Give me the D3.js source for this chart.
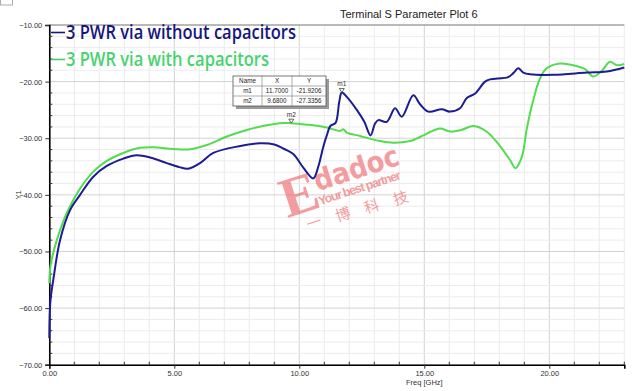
<!DOCTYPE html>
<html lang="en">
<head>
    <meta charset="UTF-8">
    <title>Terminal S Parameter Plot 6</title>
    <script src="https://d3js.org/d3.v7.min.js"></script>
</head>
<style>
    html,body {
        margin: 0;
        padding: 0;
        background: #fff;
    }
</style>
<body>
    <div id="svg"></div>
</body>
<script>
    // 数据
    const freqNoCap = [0, 0.04, 0.16, 0.43, 0.83, 1.23, 1.76, 2.3, 2.96, 3.5, 4.03, 4.7, 5.2, 5.55, 6.03, 6.56, 7.6, 8.4, 9.0, 9.4, 9.76, 10.16, 10.56, 10.76, 10.96, 11.1, 11.25, 11.45, 11.6, 11.7, 11.9, 12.3, 12.6, 12.85, 13.03, 13.16, 13.5, 13.83, 14.1, 14.56, 14.83, 15.16, 15.7, 16.03, 16.43, 16.7, 17.03, 17.43, 17.63, 18.36, 18.56, 18.76, 18.96, 19.23, 20.16, 21.5, 22.3, 23.0];
    const dbNoCap = [-65.3, -59, -55, -48, -42.7, -40.0, -36.8, -34.9, -33.6, -33.0, -33.4, -34.4, -35.1, -35.4, -34.4, -32.6, -31.4, -30.9, -31.1, -31.9, -32.8, -35.2, -37.1, -35.0, -31.5, -29.5, -27.8, -27.3, -23.5, -21.92, -22.7, -25.0, -27.1, -29.5, -27.4, -26.8, -27.1, -24.7, -26.2, -22.4, -24.0, -25.3, -24.9, -25.3, -24.7, -22.9, -22.1, -20.0, -19.6, -19.2, -18.5, -17.65, -18.4, -18.7, -18.8, -18.4, -18.2, -17.5];

    const freqCap = [0, 0.05, 0.3, 0.63, 0.83, 1.23, 1.76, 2.3, 2.96, 3.63, 4.16, 4.96, 5.63, 6.3, 7.1, 7.9, 8.7, 9.36, 9.68, 10.3, 10.56, 11.1, 11.63, 11.76, 11.9, 12.43, 13.23, 13.76, 14.43, 14.96, 15.23, 15.63, 16.03, 16.5, 16.96, 17.5, 18.03, 18.43, 18.65, 18.9, 19.1, 19.36, 19.63, 19.9, 20.43, 20.96, 21.43, 21.76, 22.1, 22.43, 22.7, 23.0];
    const dbCap = [-55.6, -52.5, -48, -43.9, -42, -38.9, -35.9, -34.0, -32.6, -31.7, -31.6, -31.9, -31.95, -31.2, -29.7, -28.55, -27.7, -27.3, -27.34, -27.6, -27.7, -28.1, -28.7, -28.4, -29.0, -29.6, -30.5, -30.8, -30.5, -29.5, -28.9, -28.3, -28.8, -28.5, -27.85, -28.85, -31.4, -33.85, -35.3, -33.3, -28.3, -23.25, -19.4, -17.65, -16.8, -17.1, -17.8, -19.1, -18.1, -16.5, -17.1, -16.9];

    const seriesNames = ['3 PWR via without capacitors', '3 PWR via with capacitors'];
    const seriesColors = ['#1c1c94', '#52dc4e'];
    const legendColors = ['#16167e', '#48d270'];

    const markerNames = ['m1', 'm2'];
    const markerFreq = [11.7, 9.68];
    const markerDb = [-21.9206, -27.3356];

    const xTicks = [0, 5, 10, 15, 20];
    const yTicks = [-70, -60, -50, -40, -30, -20, -10];

    const W = 640, H = 391;
    const svg = d3.select('#svg').append('svg')
        .attr('width', W)
        .attr('height', H)
        .style('font-family', 'Arial, "Liberation Sans", sans-serif');

    const x = d3.scaleLinear().domain([0, 23]).range([49.3, 624.3]);
    const y = d3.scaleLinear().domain([-70, -10]).range([364.7, 25]);

    // 小框 (左上角)
    svg.append('rect').attr('x', 0.5).attr('y', -1).attr('width', 12).attr('height', 6)
        .attr('fill', '#fff').attr('stroke', '#aaa');

    // 网格
    const g = svg.append('g');
    g.selectAll('.vminor').data(d3.range(0, 24)).enter().append('line')
        .attr('x1', d => x(d)).attr('x2', d => x(d))
        .attr('y1', y(-10)).attr('y2', y(-70))
        .attr('stroke', d => d % 5 === 0 ? '#d2d2d2' : '#ececec')
        .attr('stroke-width', 1);
    g.selectAll('.hminor').data(d3.range(-70, -9, 2)).enter().append('line')
        .attr('x1', x(0)).attr('x2', x(23))
        .attr('y1', d => y(d)).attr('y2', d => y(d))
        .attr('stroke', d => d % 10 === 0 ? '#d2d2d2' : '#ececec')
        .attr('stroke-width', 1);
    // 顶部边线
    g.append('line').attr('x1', x(0)).attr('x2', x(23)).attr('y1', y(-10)).attr('y2', y(-10))
        .attr('stroke', '#8a8a8a').attr('stroke-width', 1);

    // 坐标轴
    const xAxis = svg.append('g').attr('transform', `translate(0,${y(-70)})`)
        .call(d3.axisBottom(x).tickValues(xTicks).tickSize(4).tickFormat(d3.format('.2f')));
    const yAxis = svg.append('g').attr('transform', `translate(${x(0)},0)`)
        .call(d3.axisLeft(y).tickValues(yTicks).tickSize(4).tickFormat(d3.format('.2f')));
    [xAxis, yAxis].forEach(a => {
        a.select('.domain').attr('stroke', '#000').attr('stroke-width', 1.6);
        a.selectAll('.tick line').attr('stroke', '#333');
        a.selectAll('.tick text').attr('fill', '#333').style('font-size', '7.5px')
            .style('font-family', 'Arial, "Liberation Sans", sans-serif');
    });
    yAxis.selectAll('.tick text').attr('x', -7);
    xAxis.selectAll('.tick text').attr('y', 6);
    // 小刻度
    svg.append('g').selectAll('line').data(d3.range(1, 24).filter(d => d % 5 !== 0)).enter().append('line')
        .attr('x1', d => x(d)).attr('x2', d => x(d))
        .attr('y1', y(-70)).attr('y2', y(-70) - 3)
        .attr('stroke', '#333');
    svg.append('g').selectAll('line').data(d3.range(-68, -10, 2).filter(d => d % 10 !== 0)).enter().append('line')
        .attr('x1', x(0)).attr('x2', x(0) + 3)
        .attr('y1', d => y(d)).attr('y2', d => y(d))
        .attr('stroke', '#333');

    // 轴标题
    svg.append('text').attr('x', x(15)).attr('y', 385).attr('text-anchor', 'middle')
        .style('font-size', '7.5px').attr('fill', '#333').text('Freq [GHz]');
    svg.append('text').attr('transform', `translate(21,${y(-40)}) rotate(-90)`)
        .attr('text-anchor', 'middle').style('font-size', '7.5px').attr('fill', '#333').text('Y1');
    svg.append('text').attr('x', 340).attr('y', 18)
        .style('font-size', '11px').attr('fill', '#222').text('Terminal S Parameter Plot 6');

    // 水印
    const wm = svg.append('g').attr('transform', 'translate(345,195) rotate(-18)')
        .attr('fill', '#ef7479').attr('opacity', 0.7);
    wm.append('text').attr('x', -62).attr('y', 4)
        .style('font-family', '"Liberation Serif", serif').style('font-size', '56px').style('font-weight', 'bold')
        .text('E');
    wm.append('text').attr('x', -25).attr('y', -12)
        .style('font-family', '"DejaVu Sans", sans-serif').style('font-size', '29px').style('font-weight', 'bold')
        .attr('textLength', 88).attr('lengthAdjust', 'spacingAndGlyphs').text('dadoc');
    wm.append('text').attr('x', -27).attr('y', 2)
        .style('font-size', '12.5px').style('font-weight', 'bold')
        .attr('textLength', 86).text('Your best partner');
    ['一', '博', '科', '技'].forEach((c, i) => {
        wm.append('text').attr('x', -38 + i * 30).attr('y', 22 + i * 1.2).attr('text-anchor', 'middle')
            .style('font-family', '"Noto Sans CJK SC", sans-serif').style('font-size', '15px')
            .text(c);
    });

    // 曲线
    const line = d3.line()
        .x(d => x(d[0]))
        .y(d => y(d[1]))
        .curve(d3.curveCatmullRom.alpha(0.5));
    const series = [
        d3.zip(freqNoCap, dbNoCap),
        d3.zip(freqCap, dbCap)
    ];
    svg.append('g').selectAll('path').data([series[1], series[0]]).enter().append('path')
        .attr('d', line)
        .attr('fill', 'none')
        .attr('stroke', (d, i) => i === 0 ? seriesColors[1] : seriesColors[0])
        .attr('stroke-width', 2);

    // 图例
    const leg = svg.append('g').style('font-family', '"Open Sans", sans-serif').style('font-weight', 600);
    seriesNames.forEach((name, i) => {
        const yy = 39 + i * 27;
        leg.append('line').attr('x1', 51).attr('x2', 65).attr('y1', yy - 6.5).attr('y2', yy - 6.5)
            .attr('stroke', legendColors[i]).attr('stroke-width', 1.6);
        leg.append('text').attr('x', 66).attr('y', yy)
            .attr('fill', legendColors[i]).style('font-size', '19px')
            .attr('textLength', i === 0 ? 230 : 203).attr('lengthAdjust', 'spacingAndGlyphs')
            .text(name);
    });

    // 标记
    const mk = svg.append('g');
    markerNames.forEach((m, i) => {
        const mx = x(markerFreq[i]), my = y(markerDb[i]);
        mk.append('path')
            .attr('d', `M${mx - 2.5},${my - 4} L${mx + 2.5},${my - 4} L${mx},${my} Z`)
            .attr('fill', '#fff').attr('stroke', '#444').attr('stroke-width', 0.8);
        mk.append('text').attr('x', mx).attr('y', my - 6).attr('text-anchor', 'middle')
            .style('font-size', '6.5px').attr('fill', '#333').text(m);
    });

    // 标记表
    const tb = svg.append('g').attr('transform', 'translate(233,76)');
    const colX = [0, 29, 59, 93];
    const rowH = 10;
    tb.append('rect').attr('x', 3).attr('y', 3).attr('width', 93).attr('height', 30).attr('fill', '#9a9a9a');
    tb.append('rect').attr('x', 0).attr('y', 0).attr('width', 93).attr('height', 30)
        .attr('fill', '#fff').attr('stroke', '#555').attr('stroke-width', 0.8);
    [1, 2].forEach(r => tb.append('line').attr('x1', 0).attr('x2', 93).attr('y1', r * rowH).attr('y2', r * rowH)
        .attr('stroke', '#777').attr('stroke-width', 0.6));
    [1, 2].forEach(c => tb.append('line').attr('x1', colX[c]).attr('x2', colX[c]).attr('y1', 0).attr('y2', 30)
        .attr('stroke', '#777').attr('stroke-width', 0.6));
    const rows = [['Name', 'X', 'Y']].concat(markerNames.map((m, i) =>
        [m, markerFreq[i].toFixed(4), markerDb[i].toFixed(4)]));
    rows.forEach((r, ri) => r.forEach((t, ci) => {
        tb.append('text').attr('x', (colX[ci] + colX[ci + 1]) / 2).attr('y', ri * rowH + 7.3)
            .attr('text-anchor', 'middle').style('font-size', '6.3px').attr('fill', '#222').text(t);
    }));
</script>
</html>
